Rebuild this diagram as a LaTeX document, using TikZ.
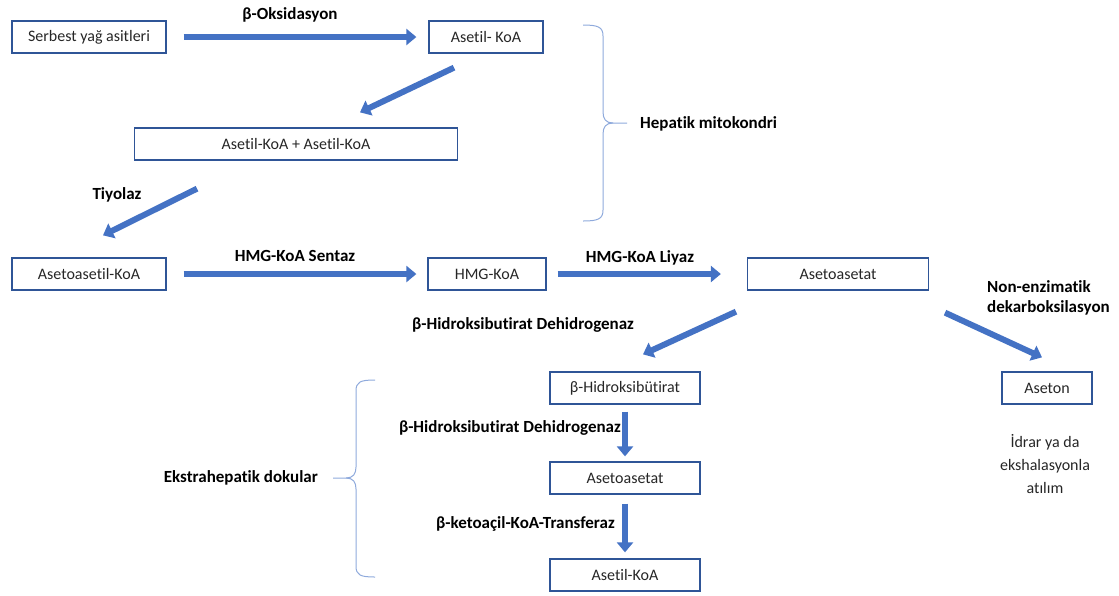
\documentclass[tikz,border=0pt]{standalone}
\usepackage{fontspec}
\setmainfont[Ligatures=NoCommon,RawFeature=-liga]{Carlito}
\usepackage{tikz}
\usetikzlibrary{arrows.meta}
\definecolor{boxblue}{HTML}{2F5597}
\definecolor{flowblue}{HTML}{4472C4}
\definecolor{braceblue}{HTML}{8FAADC}

\begin{document}
\begin{tikzpicture}[x=1pt,y=-1pt,
        box/.style={draw=boxblue,line width=1.3pt,minimum height=32pt,inner sep=0pt,
            text=black!85,font=\fontsize{16}{19}\selectfont},
        flow/.style={draw=flowblue,line width=6pt,-{Triangle[length=10pt,width=16pt]}},
        lbl/.style={font=\fontsize{17}{20}\selectfont\bfseries,inner sep=0pt},
        brc/.style={draw=braceblue,line width=1pt}]
        \useasboundingbox (0,0) rectangle (1119,595);
        % boxes
        \node[box,minimum width=154pt] (serbest) at (89,37) {Serbest yağ asitleri};
        \node[box,minimum width=114pt] (asetilA) at (486,37) {Asetil- KoA};
        \node[box,minimum width=323pt] (asetilAA) at (296,144) {Asetil-KoA + Asetil-KoA};
        \node[box,minimum width=154pt] (asetoasetil) at (89,274) {Asetoasetil-KoA};
        \node[box,minimum width=118pt] (hmg) at (487,274) {HMG-KoA};
        \node[box,minimum width=181pt] (asetoasetat) at (838,274) {Asetoasetat};
        \node[box,minimum width=150pt] (hidroksi) at (625,388) {β-Hidroksibütirat};
        \node[box,minimum width=150pt] (asetoasetatB) at (625,478) {Asetoasetat};
        \node[box,minimum width=150pt] (asetilB) at (625,575) {Asetil-KoA};
        \node[box,minimum width=90pt] (aseton) at (1047,388) {Aseton};
        % arrows
        \draw[flow,shorten <=17pt,shorten >=12pt] (serbest) -- (asetilA);
        \draw[flow] ([xshift=-32pt,yshift=-14pt]asetilA.south) -- ([xshift=64pt,yshift=15pt]asetilAA.north);
        \draw[flow] ([xshift=-99pt,yshift=-28pt]asetilAA.south) -- ([xshift=14pt,yshift=22pt]asetoasetil.north);
        \draw[flow,shorten <=17pt,shorten >=11pt] (asetoasetil) -- (hmg);
        \draw[flow,shorten <=11pt,shorten >=26pt] (hmg) -- (asetoasetat);
        \draw[flow] ([xshift=-102pt,yshift=-21pt]asetoasetat.south) -- ([xshift=18pt,yshift=17pt]hidroksi.north);
        \draw[flow] ([xshift=107pt,yshift=-22pt]asetoasetat.south) -- ([xshift=-5pt,yshift=14pt]aseton.north);
        \draw[flow,shorten <=7pt,shorten >=5pt] (hidroksi) -- (asetoasetatB);
        \draw[flow,shorten <=9pt,shorten >=6pt] (asetoasetatB) -- (asetilB);
        % enzyme labels
        \node[lbl] (oksidasyon) at (290,15) {β-Oksidasyon};
        \node[lbl] (tiyolaz) at (117,195) {Tiyolaz};
        \node[lbl] (sentaz) at (295,256) {HMG-KoA Sentaz};
        \node[lbl] (liyaz) at (640,258) {HMG-KoA Liyaz};
        \node[lbl] (dehidroA) at (523,325) {β-Hidroksibutirat Dehidrogenaz};
        \node[lbl,anchor=west,align=left] (nonenz) at (987,298) {Non-enzimatik\\dekarboksilasyon};
        \node[lbl,anchor=east] (dehidroB) at (621,428) {β-Hidroksibutirat Dehidrogenaz};
        \node[lbl,anchor=east] (transferaz) at (615,524) {β-ketoaçil-KoA-Transferaz};
        \node[inner sep=0pt,align=center,text=black!85,font=\fontsize{16}{23}\selectfont] (atilim) at (1045,464) {İdrar ya da\\ekshalasyonla\\atılım};
        % braces
        \draw[brc] (583,25) .. controls (598,25) and (603,27) .. (603,36) -- (603,112) .. controls (603,119) and (606,123) .. (613,123) -- (627,123);
        \draw[brc] (583,221) .. controls (598,221) and (603,219) .. (603,210) -- (603,134) .. controls (603,127) and (606,123) .. (613,123);
        \node[lbl,anchor=west] (hepatik) at (640,124) {Hepatik mitokondri};
        \draw[brc] (375,380) .. controls (360,380) and (356,382) .. (356,391) -- (356,467) .. controls (356,474) and (353,478) .. (346,478) -- (333,478);
        \draw[brc] (375,577) .. controls (360,577) and (356,575) .. (356,566) -- (356,489) .. controls (356,482) and (353,478) .. (346,478);
        \node[lbl,anchor=east] (ekstra) at (318,478) {Ekstrahepatik dokular};
\end{tikzpicture}
\end{document}
